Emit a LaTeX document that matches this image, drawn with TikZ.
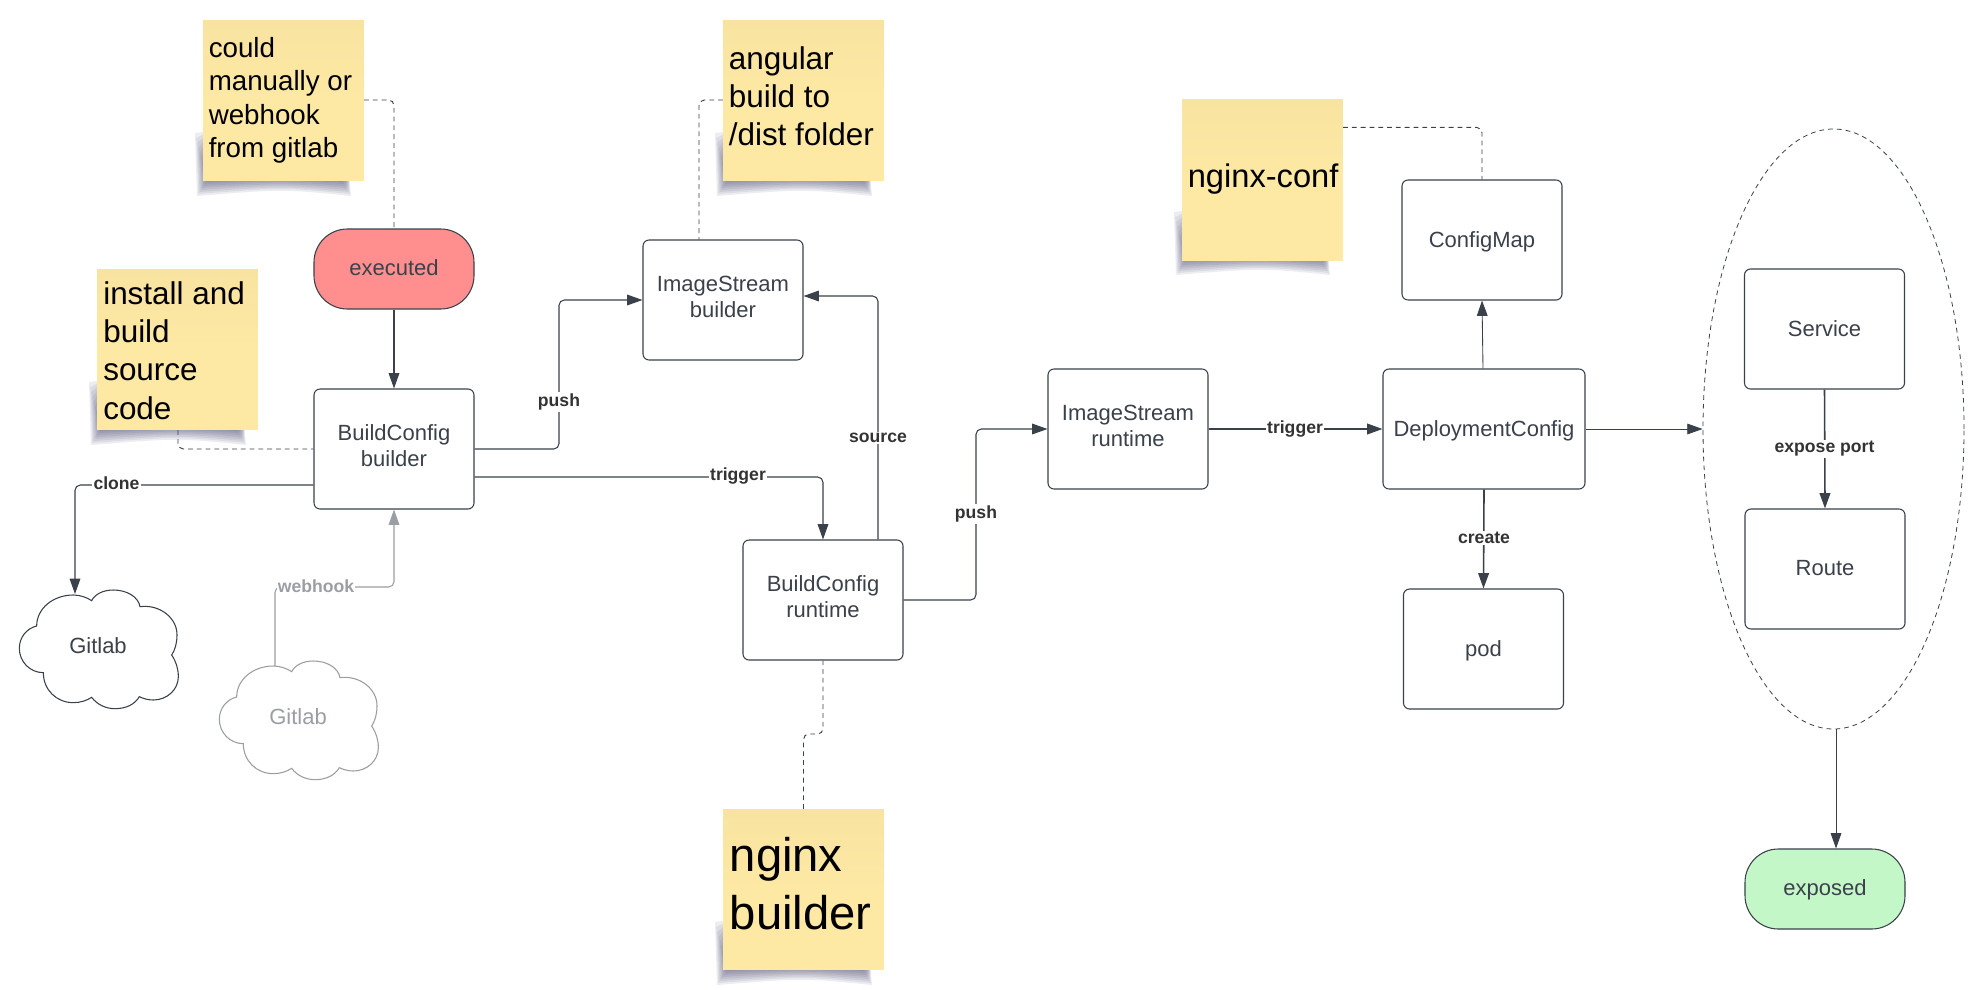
\documentclass[tikz,border=0pt]{standalone}
\usepackage{fontspec}
\setmainfont{Liberation Sans}
\usetikzlibrary{arrows.meta,calc,shapes.geometric}
\definecolor{ink}{HTML}{3A414A}
\definecolor{lab}{HTML}{333333}
\definecolor{ghost}{HTML}{9B9EA2}
\definecolor{notetop}{HTML}{F9E3A0}
\definecolor{notemid}{HTML}{FDE8A4}
\definecolor{redfill}{HTML}{FF8F8F}
\definecolor{greenfill}{HTML}{C3F7C8}
\newcommand{\pxfont}[2]{\fontsize{#1}{#2}\selectfont}
\tikzset{
  x=0.75pt,y=-0.75pt,
  boxnode/.style={draw=ink,line width=0.8pt,fill=white,rounded corners=4.5pt,minimum width=120pt,minimum height=90pt,inner sep=0pt,align=center,text=ink,font=\pxfont{16.5}{19.6}},
  twoline/.style={text depth=5.3pt},
  oneline/.style={text depth=1.2pt},
  termline/.style={text depth=2.4pt},
  termnode/.style={boxnode,rounded corners=25pt,minimum height=60pt},
  notenode/.style={shading=axis,top color=notetop,bottom color=notemid,middle color=notemid,shading angle=0,minimum width=120.5pt,minimum height=120.5pt,inner sep=0pt},
  notetext/.style={anchor=base west,align=left,inner sep=0pt,text=black},
  edgeline/.style={draw=ink,line width=0.8pt,rounded corners=4pt},
  arrowline/.style={edgeline,-{Triangle[length=11.5pt,width=8pt]}},
  heavy/.style={line width=1.2pt},
  light/.style={line width=0.65pt},
  dashline/.style={draw=ink,line width=0.7pt,dash pattern=on 3.6pt off 3pt,rounded corners=4pt},
  labelnode/.style={fill=white,inner sep=1pt,text=lab,font=\bfseries\pxfont{13.2}{15}},
  ghostarrow/.style={draw=ghost,line width=0.8pt,rounded corners=4pt,-{Triangle[length=11.5pt,width=8pt]}},
}
\newcommand{\noteshadow}[4]{%
  \foreach \k in {0,...,7}{
    \fill[black!70!blue!60!gray,opacity=0.085]
      ({#1+\k*1.2-8},{#4-48+\k*5}) -- ({#1+8},{#4-50}) -- ({#3-14},{#4-6})
      -- ({#3-12-\k*1.2},{#4+15-\k*2}) .. controls ({(#1+#3)/2},{#4+8-\k*1.5}) .. ({#1-6+\k*1.3},{#4+15-\k*2}) -- cycle;
  }%
}
\newcommand{\cloudpath}{%
  (110,438) .. controls (110,385) and (160,345) .. (220,345)
  .. controls (240,345) and (260,352) .. (275,362)
  .. controls (285,342) and (310,330) .. (340,330)
  .. controls (380,330) and (415,350) .. (420,380)
  .. controls (480,372) and (532,415) .. (531,465)
  .. controls (531,490) and (525,510) .. (515,525)
  .. controls (528,545) and (535,565) .. (535,590)
  .. controls (535,630) and (500,660) .. (460,660)
  .. controls (445,660) and (430,656) .. (418,650)
  .. controls (405,672) and (380,686) .. (345,686)
  .. controls (315,686) and (290,672) .. (275,652)
  .. controls (260,662) and (240,668) .. (220,668)
  .. controls (170,668) and (130,630) .. (130,578)
  .. controls (90,578) and (58,545) .. (58,505)
  .. controls (58,472) and (80,445) .. (110,438) -- cycle}
\begin{document}
\begin{tikzpicture}
\useasboundingbox (0,0) rectangle (1984,989);
\fill[white] (0,0) rectangle (1984,989);

% container
\node[draw=ink,line width=0.6pt,dash pattern=on 3.6pt off 3pt,ellipse,minimum width=195.75pt,minimum height=450pt,inner sep=0pt] (ell) at (1833.5,429) {};

% note shadows
\noteshadow{203}{20}{363}{181}
\noteshadow{97}{269}{258}{430}
\noteshadow{723}{20}{884}{181}
\noteshadow{1182}{100}{1342}{260}
\noteshadow{723}{809}{884}{970}

% notes
\node[notenode] (n1) at (283.5,100.5) {};
\node[notenode] (n2) at (177.5,349.5) {};
\node[notenode] (n3) at (803.5,100.5) {};
\node[notenode] (n4) at (1262.5,180) {};
\node[notenode] (n5) at (803.5,889.5) {};
\node[notetext,font=\pxfont{20.8}{25.1}] (n1t) at (208.5,157.5) {could\\manually or\\webhook\\from gitlab};
\node[notetext,font=\pxfont{23.6}{28.6}] (n2t) at (103,419) {install and\\build\\source\\code};
\node[notetext,font=\pxfont{23.6}{28.5}] (n3t) at (728.5,145) {angular\\build to\\/dist folder};
\node[notetext,font=\pxfont{24.5}{29}] (n4t) at (1187.5,187) {nginx-conf};
\node[notetext,font=\pxfont{35.4}{42.8}] (n5t) at (729.5,929) {nginx\\builder};

% boxes
\node[termnode,fill=redfill,termline] (exec) at (394,269) {executed};
\node[boxnode,twoline] (bcb) at (394,449) {BuildConfig\\builder};
\node[boxnode,twoline] (isb) at (723,300) {ImageStream\\builder};
\node[boxnode,twoline] (bcr) at (823,600) {BuildConfig\\runtime};
\node[boxnode,twoline] (isr) at (1128,429) {ImageStream\\runtime};
\node[boxnode,oneline,minimum width=151.5pt] (dc) at (1484,429) {DeploymentConfig};
\node[boxnode,oneline] (cm) at (1482,240) {ConfigMap};
\node[boxnode,oneline] (pod) at (1483.5,649) {pod};
\node[boxnode,oneline] (svc) at (1824.5,329) {Service};
\node[boxnode,oneline] (rt) at (1825,569) {Route};
\node[termnode,fill=greenfill,termline] (expd) at (1825,889) {exposed};

% clouds
\begin{scope}[shift={(0,480)},x=0.25pt,y=-0.25pt]
\draw[ink,line width=0.8pt] \cloudpath;
\end{scope}
\begin{scope}[shift={(200,551)},x=0.25pt,y=-0.25pt]
\draw[ghost,line width=0.8pt] \cloudpath;
\end{scope}
\node[text=ink,font=\pxfont{16.5}{19.6},inner sep=0pt] (g1) at (98,646) {Gitlab};
\node[text=ghost,font=\pxfont{16.5}{19.6},inner sep=0pt] (g2) at (298,717) {Gitlab};
\coordinate (g1top) at (75,594);
\coordinate (g2top) at (275,666);

% dashed
\draw[dashline] (n1.east |- 0,100) -| (exec.north);
\draw[dashline] (n2.south -| 178,0) |- (bcb.west);
\draw[dashline] (n3.west |- 0,100) -| ($(isb.north)+(-24,0)$);
\draw[dashline] ($(n4.north east)+(0,28)$) -| (cm.north);
\draw[dashline] (n5.north) |- (823,734) -- (bcr.south);

% connectors
\draw[arrowline] (exec.south) -- (bcb.north);
\draw[arrowline] ($(bcb.west)+(0,36)$) -| (g1top);
\draw[arrowline] (bcb.east) -| (559,300) -- (isb.west);
\draw[arrowline] ($(bcb.east)+(0,28)$) -| (bcr.north);
\draw[arrowline] ($(bcr.north)+(55,0)$) |- ($(isb.east)+(0,-4)$);
\draw[arrowline] (bcr.east) -| (976,429) -- (isr.west);
\draw[arrowline,heavy] (isr.east) -- (dc.west);
\draw[arrowline,light] ($(dc.north)+(-1,0)$) -- ($(cm.south)+(0,0)$);
\draw[arrowline,heavy] (dc.south) -- (pod.north);
\draw[arrowline,light] (dc.east) -- (ell.west);
\draw[arrowline,heavy] (svc.south) -- (rt.north);
\draw[arrowline,light] ($(ell.south)+(2.5,0)$) -- ($(expd.north)+(11,0)$);
\draw[ghostarrow] (g2top) |- (394,587) -- (bcb.south);

% labels
\node[labelnode] (l1) at (116.5,483) {clone};
\node[labelnode] (l2) at (559,402) {push};
\node[labelnode] (l3) at (738,476) {trigger};
\node[labelnode] (l4) at (878,438) {source};
\node[labelnode] (l5) at (976,514) {push};
\node[labelnode] (l6) at (1295,429) {trigger};
\node[labelnode] (l7) at (1484,538) {create};
\node[labelnode] (l8) at (1824.5,449) {expose port};
\node[labelnode,text=ghost] (l9) at (316,586) {webhook};
\end{tikzpicture}
\end{document}
